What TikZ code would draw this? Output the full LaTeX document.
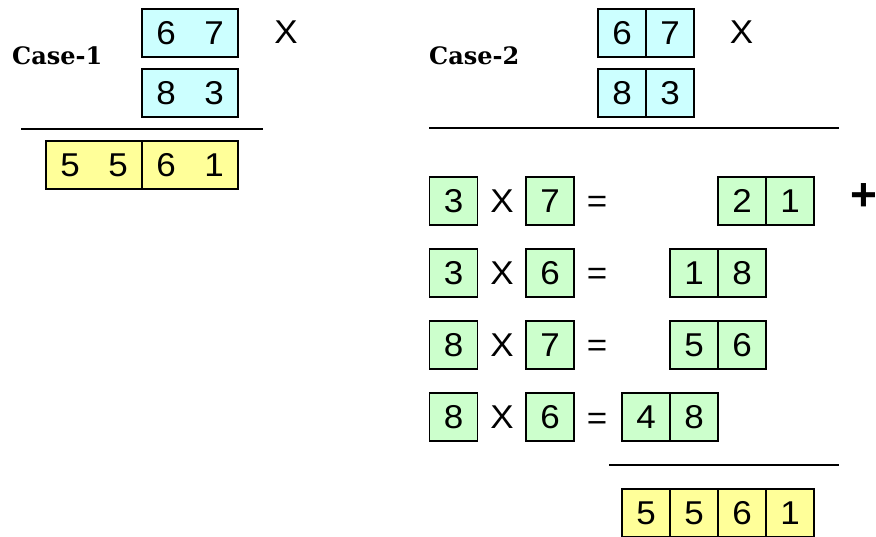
\documentclass[tikz,border=0pt]{standalone}
\usepackage{fontspec}
\setmainfont{Liberation Sans}
\newfontfamily\digitfam[FakeStretch=1.06]{Liberation Sans}
\newfontfamily\labelfont{DejaVu Serif}
\definecolor{cyanbox}{HTML}{CCFFFF}
\definecolor{greenbox}{HTML}{CCFFCC}
\definecolor{yellowbox}{HTML}{FFFF99}
\begin{document}
\begin{tikzpicture}[x=1pt,y=-1pt,
  digitfont/.style={font=\digitfam\fontsize{33}{33}\selectfont},
  box/.style={draw=black, line width=1.4pt, minimum width=48pt, minimum height=48pt, inner sep=0pt},
  frame/.style={draw=black, line width=1.4pt, minimum height=48pt, inner sep=0pt},
  glyph/.style={inner sep=0pt, anchor=base, digitfont},
  caselabel/.style={inner sep=0pt, anchor=base west, font=\labelfont\bfseries\fontsize{24}{24}\selectfont},
  rule/.style={line width=2.6pt}
]
\useasboundingbox (0,0) rectangle (876,537);

% ---------- Case 1 ----------
\node[caselabel] (c1label) at (12,65) {Case-1};
\node[frame, fill=cyanbox, minimum width=96pt] (c1a) at (190,33) {};
\node[glyph] (c1a1) at (166,44.5) {6};
\node[glyph] (c1a2) at (214,44.5) {7};
\node[glyph] (c1x) at (286,44) {X};
\node[frame, fill=cyanbox, minimum width=96pt] (c1b) at (190,93) {};
\node[glyph] (c1b1) at (166,104.5) {8};
\node[glyph] (c1b2) at (214,104.5) {3};
\coordinate (c1l) at (21,129);
\coordinate (c1r) at (263,129);
\draw[rule] (c1l) -- (c1r);
\node[frame, fill=yellowbox, minimum width=96pt] (c1ra) at (94,165) {};
\node[frame, fill=yellowbox, minimum width=96pt] (c1rb) at (190,165) {};
\node[glyph] (c1r1) at (70,176.5) {5};
\node[glyph] (c1r2) at (118,176.5) {5};
\node[glyph] (c1r3) at (166,176.5) {6};
\node[glyph] (c1r4) at (214,176.5) {1};

% ---------- Case 2 ----------
\node[caselabel] (c2label) at (429,65) {Case-2};
\node[box, fill=cyanbox] (c2a1) at (622,33) {};
\node[box, fill=cyanbox] (c2a2) at (670,33) {};
\node[glyph] at (c2a1.center) [yshift=-11.5pt] {6};
\node[glyph] at (c2a2.center) [yshift=-11.5pt] {7};
\node[glyph] (c2x) at (741.5,44) {X};
\node[box, fill=cyanbox] (c2b1) at (622,93) {};
\node[box, fill=cyanbox] (c2b2) at (670,93) {};
\node[glyph] at (c2b1.center) [yshift=-11.5pt] {8};
\node[glyph] at (c2b2.center) [yshift=-11.5pt] {3};
\coordinate (c2l) at (429,128);
\coordinate (c2r) at (839,128);
\draw[rule] (c2l) -- (c2r);

% multiplication rows
\foreach \yy/\a/\b/\nm in {201/3/7/r1, 273/3/6/r2, 345/8/7/r3, 417/8/6/r4}{
  \node[box, fill=greenbox] (\nm a) at (453.5,\yy) {};
  \node[glyph] at (\nm a.center) [yshift=-11.5pt] {\a};
  \node[glyph] (\nm x) at (502,\yy+11.5) {X};
  \node[box, fill=greenbox] (\nm b) at (550,\yy) {};
  \node[glyph] at (\nm b.center) [yshift=-11.5pt] {\b};
  \node[glyph] (\nm e) at (597,\yy+12) {=};
}

\foreach \xx/\yy/\d/\nm in {742/201/2/r1c1, 790/201/1/r1c2,
                              694/273/1/r2c1, 742/273/8/r2c2,
                              694/345/5/r3c1, 742/345/6/r3c2,
                              646/417/4/r4c1, 694/417/8/r4c2}{
  \node[box, fill=greenbox] (\nm) at (\xx,\yy) {};
  \node[glyph] at (\nm.center) [yshift=-11.5pt] {\d};
}
\node[inner sep=0pt, font=\bfseries\fontsize{46}{46}\selectfont] (plus) at (863.5,197.5) {+};

\coordinate (c2bl) at (609,465);
\coordinate (c2br) at (839,465);
\draw[rule] (c2bl) -- (c2br);

\foreach \xx/\d/\nm in {646/5/s1, 694/5/s2, 742/6/s3, 790/1/s4}{
  \node[box, fill=yellowbox] (\nm) at (\xx,513) {};
  \node[glyph] at (\nm.center) [yshift=-11.5pt] {\d};
}
\end{tikzpicture}
\end{document}
